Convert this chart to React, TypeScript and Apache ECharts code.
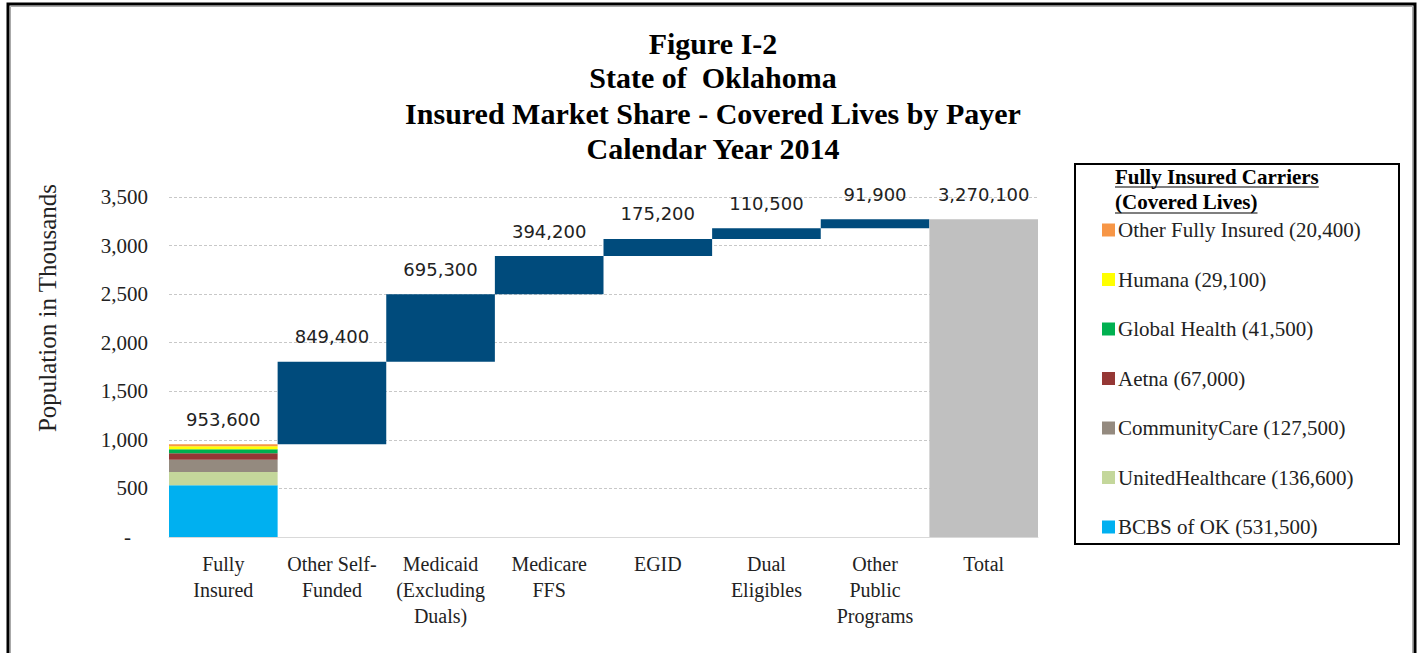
import React, { useEffect, useRef } from "react";
import * as echarts from "echarts";

const categories = [
  "Fully\nInsured",
  "Other Self-\nFunded",
  "Medicaid\n(Excluding\nDuals)",
  "Medicare\nFFS",
  "EGID",
  "Dual\nEligibles",
  "Other\nPublic\nPrograms",
  "Total",
];

// Fully insured carriers, bottom of the stack first (covered lives)
const carrierNames = [
  "BCBS of OK",
  "UnitedHealthcare",
  "CommunityCare",
  "Aetna",
  "Global Health",
  "Humana",
  "Other Fully Insured",
];
const carrierValues = [531500, 136600, 127500, 67000, 41500, 29100, 20400];
const carrierColors = ["#00B0F0", "#C4D79B", "#948A7F", "#953735", "#00B050", "#FFFF00", "#F79646"];

// Waterfall steps (covered lives) for categories 2..7
const stepValues = [849400, 695300, 394200, 175200, 110500, 91900];
const totalValue = 3270100;

const yTicks = { min: 0, max: 3500, interval: 500 };

const titleLines = [
  "Figure I-2",
  "State of  Oklahoma",
  "Insured Market Share - Covered Lives by Payer",
  "Calendar Year 2014",
];
const yAxisTitle = "Population in Thousands";

const fmt = (n: number) => Math.round(n).toLocaleString("en-US");

export default function App() {
  const ref = useRef<HTMLDivElement>(null);
  useEffect(() => {
    if (!ref.current) return;
    const chart = echarts.init(ref.current, null, { renderer: "svg" });
    const serif = "'Liberation Serif', 'Times New Roman', serif";
    const sans = "'DejaVu Sans', Verdana, sans-serif";

    const fullyInsured = carrierValues.reduce((a, b) => a + b, 0);
    const bases: number[] = [];
    let run = fullyInsured;
    stepValues.forEach((v) => {
      bases.push(run);
      run += v;
    });

    const n = categories.length;
    const labelStyle = {
      show: true,
      position: "top",
      distance: 16,
      fontFamily: sans,
      fontSize: 18,
      color: "#222",
    };
    const carrierSeries = carrierNames.map((name, i) => {
      const data: any[] = new Array(n).fill("-");
      data[0] = carrierValues[i] / 1000;
      const isTop = i === carrierNames.length - 1;
      return {
        name: `${name} (${fmt(carrierValues[i])})`,
        type: "bar",
        stack: "w",
        barCategoryGap: "0%",
        itemStyle: { color: carrierColors[i] },
        label: isTop ? { ...labelStyle, formatter: () => fmt(fullyInsured) } : { show: false },
        data,
      };
    });

    const baseData: any[] = ["-", ...bases.map((b) => b / 1000), "-"];
    const stepData: any[] = ["-", ...stepValues.map((v) => v / 1000), "-"];
    const totalData: any[] = new Array(n).fill("-");
    totalData[n - 1] = totalValue / 1000;

    const measure = (text: string, font: string) => {
      const c = document.createElement("canvas").getContext("2d")!;
      c.font = font;
      return c.measureText(text).width;
    };
    const legTitleFont = "bold 21px 'Liberation Serif'";
    const w1 = measure("Fully Insured Carriers", legTitleFont);
    const w2 = measure("(Covered Lives)", legTitleFont);

    const option: any = {
      animation: false,
      grid: { left: 169, right: 381, top: 197, bottom: 653 - 537 },
      xAxis: {
        type: "category",
        data: categories,
        axisLine: { show: true, lineStyle: { color: "#D9D9D9" } },
        axisTick: { show: false },
        axisLabel: {
          interval: 0,
          margin: 14,
          fontFamily: serif,
          fontSize: 20,
          lineHeight: 26,
          color: "#222",
        },
      },
      yAxis: {
        type: "value",
        min: yTicks.min,
        max: yTicks.max,
        interval: yTicks.interval,
        axisLine: { show: false },
        axisTick: { show: false },
        splitLine: { lineStyle: { color: "#C8C8C8", type: [3, 2] } },
        axisLabel: {
          margin: 21,
          fontFamily: serif,
          fontSize: 21,
          color: "#222",
          formatter: (v: number) => (v === 0 ? "{d|-}" : fmt(v)),
          rich: { d: { padding: [0, 17, 0, 0], fontFamily: serif, fontSize: 21, color: "#222" } },
        },
      },
      legend: {
        orient: "vertical",
        left: 1097,
        top: 214,
        itemWidth: 13,
        itemHeight: 13,
        itemGap: 27.5,
        icon: "rect",
        selectedMode: false,
        data: [...carrierNames].reverse().map((nm) => {
          const i = carrierNames.indexOf(nm);
          return `${nm} (${fmt(carrierValues[i])})`;
        }),
        textStyle: { fontFamily: serif, fontSize: 21, lineHeight: 22, color: "#222", padding: [0, 0, 0, -2] },
      },
      graphic: [
        { type: "rect", shape: { x: 8, y: 4, width: 1407, height: 700 }, style: { fill: "none", stroke: "#000", lineWidth: 3 }, silent: true },
        { type: "rect", shape: { x: 10.5, y: 6.5, width: 1402, height: 700 }, style: { fill: "none", stroke: "#AAAAAA", lineWidth: 1 }, silent: true },
        { type: "rect", shape: { x: 1075, y: 164, width: 324, height: 380 }, style: { fill: "none", stroke: "#000", lineWidth: 2 }, silent: true },
        ...titleLines.map((t, i) => ({
          type: "text",
          x: 713,
          y: [43, 77, 113, 148][i],
          style: {
            text: t,
            font: "bold 30px 'Liberation Serif'",
            fill: "#000",
            textAlign: "center",
            textVerticalAlign: "middle",
          },
          silent: true,
        })),
        {
          type: "text",
          x: 47,
          y: 308,
          rotation: Math.PI / 2,
          style: {
            text: yAxisTitle,
            font: "25px 'Liberation Serif'",
            fill: "#222",
            textAlign: "center",
            textVerticalAlign: "middle",
          },
          silent: true,
        },
        { type: "text", x: 1115, y: 177, style: { text: "Fully Insured Carriers", font: legTitleFont, fill: "#000", textVerticalAlign: "middle" }, silent: true },
        { type: "line", shape: { x1: 1115, y1: 187, x2: 1115 + w1, y2: 187 }, style: { stroke: "#000", lineWidth: 1.2 }, silent: true },
        { type: "text", x: 1115, y: 202, style: { text: "(Covered Lives)", font: legTitleFont, fill: "#000", textVerticalAlign: "middle" }, silent: true },
        { type: "line", shape: { x1: 1115, y1: 213, x2: 1115 + w2, y2: 213 }, style: { stroke: "#000", lineWidth: 1.2 }, silent: true },
      ],
      series: [
        ...carrierSeries,
        {
          name: "base",
          type: "bar",
          stack: "w",
          itemStyle: { color: "transparent" },
          emphasis: { disabled: true },
          data: baseData,
        },
        {
          name: "step",
          type: "bar",
          stack: "w",
          itemStyle: { color: "#004B7C" },
          label: { ...labelStyle, formatter: (p: any) => fmt(p.value * 1000) },
          data: stepData,
        },
        {
          name: "total",
          type: "bar",
          stack: "w",
          itemStyle: { color: "#C0C0C0" },
          label: { ...labelStyle, formatter: (p: any) => fmt(p.value * 1000) },
          data: totalData,
        },
      ],
    };
    chart.setOption(option);
    return () => chart.dispose();
  }, []);
  return (
    <div
      ref={ref}
      style={{ position: "fixed", left: 0, top: 0, width: 1419, height: 653, background: "#fff" }}
    />
  );
}
